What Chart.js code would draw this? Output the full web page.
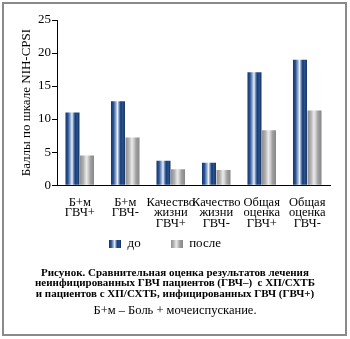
<!DOCTYPE html>
<html>
<head>
<meta charset="utf-8">
<script src="https://cdn.jsdelivr.net/npm/chart.js@4.4.1/dist/chart.umd.min.js"></script>
<style>
  html, body { margin: 0; padding: 0; background: #fff; }
  #frame {
    position: absolute; left: 2px; top: 2px; width: 341px; height: 330px;
    border: 2px solid #8a8a8a;
  }
  #wrap { position: absolute; left: 0; top: 0; width: 350px; height: 286px; }
  .cap {
    position: absolute; left: 0; width: 350px; text-align: center;
    font-family: "Liberation Serif", serif; color: #000;
  }
  #cap1 { top: 267px; font-size: 11px; font-weight: bold; line-height: 10.3px; }
  #cap2 { top: 303px; font-size: 12.5px; }
</style>
</head>
<body>
<div id="frame"></div>
<div id="wrap"><canvas id="bars"></canvas></div>
<div class="cap" id="cap1">Рисунок. Сравнительная оценка результатов лечения<br>неинфицированных ГВЧ пациентов (ГВЧ–)&nbsp; с ХП/СХТБ<br>и пациентов с ХП/СХТБ, инфицированных ГВЧ (ГВЧ+)</div>
<div class="cap" id="cap2">Б+м – Боль + мочеиспускание.</div>
<script>
const categories = [
  ["Б+м", "ГВЧ+"],
  ["Б+м", "ГВЧ-"],
  ["Качество", "жизни", "ГВЧ+"],
  ["Качество", "жизни", "ГВЧ-"],
  ["Общая", "оценка", "ГВЧ+"],
  ["Общая", "оценка", "ГВЧ-"]
];
const before = [11.0, 12.7, 3.7, 3.4, 17.1, 19.0];
const after = [4.5, 7.2, 2.4, 2.3, 8.3, 11.3];
const yTicks = [0, 5, 10, 15, 20, 25];

const SERIF = "'Liberation Serif', 'Times New Roman', serif";

// shaded stripes that give the bars a rounded look
const blueStops = [
  [0, "#12346b"], [0.18, "#2a5595"], [0.36, "#9db1d2"], [0.47, "#eef2f8"],
  [0.58, "#6b8cbd"], [0.7, "#153a74"], [0.84, "#2c5490"], [1, "#0e2a58"]
];
const grayStops = [
  [0, "#8c8c8c"], [0.25, "#b3b3b3"], [0.45, "#eaeaea"], [0.56, "#d6d6d6"],
  [0.75, "#a0a0a0"], [1, "#878787"]
];

function shade(ctx, x0, x1, stops) {
  const g = ctx.createLinearGradient(x0, 0, x1, 0);
  stops.forEach(s => g.addColorStop(s[0], s[1]));
  return g;
}

function swatch(stops) {
  const c = document.createElement("canvas");
  c.width = 12; c.height = 8;
  const cx = c.getContext("2d");
  cx.fillStyle = shade(cx, 0, 12, stops);
  cx.fillRect(0, 0, 12, 8);
  return c;
}

const stripes = {
  id: "stripes",
  beforeDatasetDraw(chart, args) {
    const stops = args.index === 0 ? blueStops : grayStops;
    args.meta.data.forEach(bar => {
      const p = bar.getProps(["x", "width"], true);
      bar.options = Object.assign({}, bar.options, {
        backgroundColor: shade(chart.ctx, p.x - p.width / 2, p.x + p.width / 2, stops)
      });
    });
  }
};

// wide gap between legend items, but keep the row close to the axis labels
const liftLegend = {
  id: "liftLegend",
  afterLayout(chart) {
    const lg = chart.legend;
    lg.top -= 26;
    lg.bottom -= 26;
  }
};

new Chart(document.getElementById("bars"), {
  type: "bar",
  data: {
    labels: categories,
    datasets: [
      { label: "до", data: before, backgroundColor: "#1e4a8a", pointStyle: swatch(blueStops),
        categoryPercentage: 0.64, barPercentage: 0.96 },
      { label: "после", data: after, backgroundColor: "#bdbdbd", pointStyle: swatch(grayStops),
        categoryPercentage: 0.64, barPercentage: 0.96 }
    ]
  },
  options: {
    responsive: true,
    maintainAspectRatio: false,
    animation: false,
    layout: { padding: { left: 0, right: 20, top: 20, bottom: 0 } },
    plugins: {
      legend: {
        position: "bottom",
        labels: {
          usePointStyle: true,
          pointStyleWidth: 12,
          color: "#000",
          padding: 30,
          font: { family: SERIF, size: 13 }
        }
      },
      tooltip: { enabled: false }
    },
    scales: {
      x: {
        grid: { display: false },
        border: { color: "#000", width: 1 },
        ticks: { color: "#000", padding: 4, maxRotation: 0, autoSkip: false,
                 font: { family: SERIF, size: 12.5, lineHeight: 0.85 } }
      },
      y: {
        min: 0, max: 25,
        afterFit: s => { s.width = 57; },
        afterBuildTicks: s => { s.ticks = yTicks.map(v => ({ value: v })); },
        grid: { drawOnChartArea: false, drawTicks: true, tickLength: 5, color: "#000" },
        border: { color: "#000", width: 1 },
        ticks: { color: "#000", padding: 1, font: { family: SERIF, size: 13 } },
        title: { display: true, text: "Баллы по шкале NIH-CPSI", color: "#000",
                 font: { family: SERIF, size: 13 }, padding: { top: 19, bottom: 0 } }
      }
    }
  },
  plugins: [stripes, liftLegend]
});
</script>
</body>
</html>
